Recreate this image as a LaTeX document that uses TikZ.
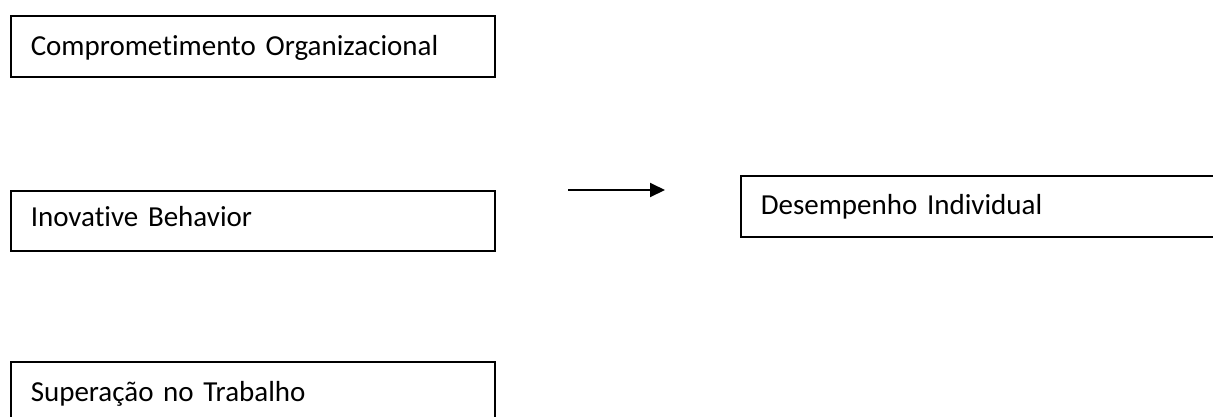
\documentclass[tikz,border=0pt]{standalone}
\usepackage{fontspec}
\setmainfont{Carlito}[Ligatures={NoCommon}]
\usetikzlibrary{arrows.meta}
\begin{document}
\begin{tikzpicture}[x=1pt,y=1pt,
  box/.style={draw=black, line width=1.5pt, anchor=north west, minimum width=484pt,
    text width=444pt, align=left, inner xsep=20pt, inner ysep=0pt,
    font=\fontsize{29}{34}\selectfont, text height=19pt, text depth=0pt},
  conn/.style={line width=2pt, -{Triangle[length=15pt,width=14pt]}}]
\useasboundingbox (0,0) rectangle (1213,-416);
\node[box, minimum height=61pt] (c) at (10,-15) {Comprometimento Organizacional};
\node[box, minimum height=60pt, text depth=8pt] (i) at (10,-190) {Inovative Behavior};
\node[box, minimum height=61pt] (s) at (10,-361) {Superação no Trabalho};
\node[box, minimum height=61pt, text depth=2pt] (d) at (740,-175) {Desempenho Individual};
\coordinate (a1) at (568,-190);
\coordinate (a2) at (665,-190);
\draw[conn] (a1) -- (a2);
\end{tikzpicture}
\end{document}
